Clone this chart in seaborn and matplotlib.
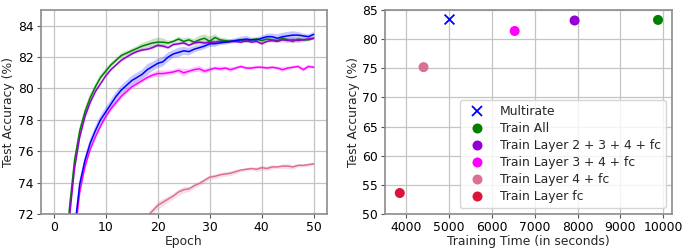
import numpy as np
import pandas as pd
import matplotlib
matplotlib.use("Agg")
import matplotlib.pyplot as plt
import seaborn as sns

# ---------------- data: left panel (test accuracy per epoch) ----------------
green_start = 2
green = [66.0, 72.3, 75.4, 77.3, 78.5, 79.4, 80.1, 80.7, 81.1, 81.5, 81.8, 82.1, 82.25, 82.4,
         82.55, 82.7, 82.8, 82.9, 82.95, 82.95, 82.9, 83.0, 83.15, 83.0, 83.1, 82.95, 83.1,
         83.2, 83.0, 83.25, 83.1, 83.05, 83.0, 83.05, 83.1, 83.0, 83.1, 83.15, 83.05, 83.15,
         83.1, 83.05, 83.2, 83.1, 83.0, 83.15, 83.1, 83.1, 83.2]
green_sd = [0.5, 0.4, 0.35, 0.3, 0.3, 0.25, 0.2, 0.2, 0.2, 0.15, 0.15, 0.15, 0.15, 0.15, 0.15,
            0.2, 0.2, 0.25, 0.3, 0.25, 0.15, 0.1, 0.15, 0.2, 0.15, 0.2, 0.25, 0.25, 0.3, 0.2,
            0.15, 0.15, 0.1, 0.1, 0.1, 0.1, 0.1, 0.1, 0.15, 0.1, 0.15, 0.1, 0.1, 0.1, 0.15,
            0.1, 0.1, 0.1, 0.1]

purple_start = 2
purple = [65.0, 71.7, 74.9, 76.9, 78.2, 79.1, 79.8, 80.3, 80.8, 81.2, 81.5, 81.8, 82.0, 82.2,
          82.35, 82.45, 82.5, 82.6, 82.75, 82.7, 82.6, 82.8, 82.85, 82.9, 82.75, 82.9, 82.95,
          82.9, 82.95, 82.95, 83.0, 82.95, 83.0, 83.0, 82.95, 83.05, 82.95, 83.0, 82.85, 83.0,
          83.05, 83.0, 83.1, 83.05, 83.1, 83.05, 83.1, 83.15, 83.2]
purple_sd = [0.4, 0.3, 0.25, 0.2, 0.2, 0.15, 0.15, 0.1, 0.1, 0.1,
             0.1, 0.1, 0.1, 0.1, 0.1, 0.1, 0.1, 0.1, 0.1, 0.1,
             0.1, 0.1, 0.1, 0.1, 0.1, 0.1, 0.1, 0.1, 0.1, 0.1,
             0.1, 0.1, 0.1, 0.1, 0.1, 0.1, 0.1, 0.1, 0.1, 0.1,
             0.1, 0.1, 0.15, 0.15, 0.15, 0.15, 0.15, 0.1, 0.1]

blue_start = 3
blue = [65.0, 71.0, 73.9, 75.4, 76.5, 77.3, 78.0, 78.5, 79.0, 79.5, 79.9, 80.2, 80.5, 80.7,
        80.9, 81.2, 81.4, 81.6, 81.7, 82.0, 82.2, 82.3, 82.4, 82.35, 82.5, 82.6, 82.7, 82.85,
        82.85, 82.9, 82.95, 83.0, 83.05, 83.1, 83.15, 83.1, 83.1, 83.2, 83.3, 83.3, 83.2,
        83.3, 83.35, 83.4, 83.4, 83.35, 83.3, 83.45]
blue_sd = [0.5, 0.4, 0.35, 0.3, 0.3, 0.3, 0.3, 0.3, 0.3, 0.3,
           0.3, 0.3, 0.3, 0.3, 0.3, 0.35, 0.3, 0.3, 0.3, 0.3,
           0.25, 0.3, 0.25, 0.25, 0.2, 0.2, 0.2, 0.2, 0.2, 0.15,
           0.15, 0.15, 0.15, 0.2, 0.2, 0.15, 0.15, 0.15, 0.2, 0.2,
           0.25, 0.25, 0.25, 0.25, 0.2, 0.15, 0.15, 0.15]

magenta_start = 3
magenta = [64.5, 70.5, 73.4, 75.0, 76.1, 76.9, 77.6, 78.2, 78.7, 79.1, 79.5, 79.8, 80.1, 80.3,
           80.5, 80.7, 80.85, 80.95, 80.95, 81.0, 81.05, 81.15, 81.0, 81.1, 81.2, 81.25, 81.1,
           81.2, 81.3, 81.25, 81.3, 81.2, 81.3, 81.4, 81.3, 81.3, 81.35, 81.35, 81.3, 81.35,
           81.3, 81.2, 81.3, 81.35, 81.4, 81.2, 81.4, 81.35]
magenta_sd = [0.4, 0.3, 0.25, 0.2, 0.15, 0.15, 0.15, 0.15, 0.15, 0.15,
              0.15, 0.15, 0.15, 0.15, 0.15, 0.15, 0.15, 0.2, 0.2, 0.15,
              0.15, 0.15, 0.25, 0.15, 0.15, 0.2, 0.15, 0.15, 0.1, 0.15,
              0.1, 0.15, 0.1, 0.1, 0.1, 0.1, 0.1, 0.1, 0.1, 0.1,
              0.1, 0.15, 0.1, 0.1, 0.1, 0.15, 0.1, 0.1]

pale_start = 18
pale = [71.85, 72.2, 72.55, 72.75, 72.95, 73.15, 73.4, 73.55, 73.6, 73.8, 73.95, 74.15, 74.35,
        74.4, 74.5, 74.55, 74.6, 74.7, 74.8, 74.85, 74.9, 74.85, 74.95, 74.9, 75.0, 75.0,
        75.05, 75.05, 75.0, 75.1, 75.1, 75.15, 75.2]
pale_sd = [0.2, 0.2, 0.25, 0.25, 0.2, 0.2, 0.2, 0.2, 0.15, 0.15,
           0.15, 0.15, 0.15, 0.15, 0.15, 0.15, 0.15, 0.15, 0.1, 0.1,
           0.1, 0.15, 0.15, 0.15, 0.15, 0.1, 0.15, 0.15, 0.15, 0.1,
           0.1, 0.1, 0.1]

# ---------------- data: right panel ----------------
methods = ["Multirate", "Train All", "Train Layer 2 + 3 + 4 + fc",
           "Train Layer 3 + 4 + fc", "Train Layer 4 + fc", "Train Layer fc"]
train_time = [4985, 9880, 7930, 6530, 4400, 3845]
final_acc = [83.4, 83.3, 83.2, 81.4, 75.2, 53.6]

colors = {"Multirate": "#0000FF", "Train All": "#008000",
          "Train Layer 2 + 3 + 4 + fc": "#9400D3", "Train Layer 3 + 4 + fc": "#FF00FF",
          "Train Layer 4 + fc": "#DB7093", "Train Layer fc": "#DC143C"}

# ---------------- style ----------------
sns.set_style("whitegrid", {
    "axes.edgecolor": "#8c8c8c",
    "grid.color": "#c4c4c4",
    "xtick.bottom": True, "ytick.left": True,
    "xtick.color": "#555555", "ytick.color": "#555555",
})
plt.rcParams["font.family"] = ["DejaVu Sans"]
plt.rcParams["font.size"] = 9
plt.rcParams["axes.linewidth"] = 1.2
plt.rcParams["grid.linewidth"] = 0.9

FS = 8.9

fig = plt.figure(figsize=(6.89, 2.52), dpi=100)
ax1 = fig.add_axes([0.0591, 0.1508, 0.4151, 0.8095])
ax2 = fig.add_axes([0.5588, 0.1508, 0.4161, 0.8095])

series = [
    (green, green_sd, green_start, colors["Train All"]),
    (purple, purple_sd, purple_start, colors["Train Layer 2 + 3 + 4 + fc"]),
    (magenta, magenta_sd, magenta_start, colors["Train Layer 3 + 4 + fc"]),
    (blue, blue_sd, blue_start, colors["Multirate"]),
    (pale, pale_sd, pale_start, colors["Train Layer 4 + fc"]),
]
for vals, sd, start, col in series:
    ep = np.arange(start, start + len(vals))
    v = np.array(vals)
    s = np.array(sd)
    ax1.fill_between(ep, v - s, v + s, color=col, alpha=0.22, linewidth=0)
    sns.lineplot(x=ep, y=v, color=col, linewidth=1.1, ax=ax1)

ax1.set_xlim(-2.5, 52.5)
ax1.set_ylim(72, 85)
ax1.set_xticks([0, 10, 20, 30, 40, 50])
ax1.set_yticks([72, 74, 76, 78, 80, 82, 84])
ax1.set_xlabel("Epoch", fontsize=FS, labelpad=1)
ax1.set_ylabel("Test Accuracy (%)", fontsize=FS, labelpad=2)
ax1.tick_params(labelsize=FS, length=3, pad=2, colors="#555555", labelcolor="black")

df = pd.DataFrame({"method": methods, "time": train_time, "acc": final_acc})
df_x = df[df["method"] == "Multirate"]
df_o = df[df["method"] != "Multirate"]
sns.scatterplot(data=df_x, x="time", y="acc", hue="method", palette=colors,
                marker="x", s=50, linewidth=1.3, ax=ax2, zorder=3)
sns.scatterplot(data=df_o, x="time", y="acc", hue="method", palette=colors,
                marker="o", s=52, linewidth=0, ax=ax2, zorder=3,
                hue_order=methods[1:])
ax2.set_xlim(3500, 10200)
ax2.set_ylim(50, 85)
ax2.set_xticks([4000, 5000, 6000, 7000, 8000, 9000, 10000])
ax2.set_yticks([50, 55, 60, 65, 70, 75, 80, 85])
ax2.set_xlabel("Training Time (in seconds)", fontsize=FS, labelpad=1)
ax2.set_ylabel("Test Accuracy (%)", fontsize=FS, labelpad=2)
ax2.tick_params(labelsize=FS, length=3, pad=2, colors="#555555", labelcolor="black")
handles, labels = ax2.get_legend_handles_labels()
leg = ax2.legend(handles, labels, loc="lower right", fontsize=FS, frameon=True,
                 handletextpad=0.8, borderaxespad=0.5, labelspacing=0.32)
leg.get_frame().set_edgecolor("#cccccc")

fig.savefig("out.png", dpi=100)
